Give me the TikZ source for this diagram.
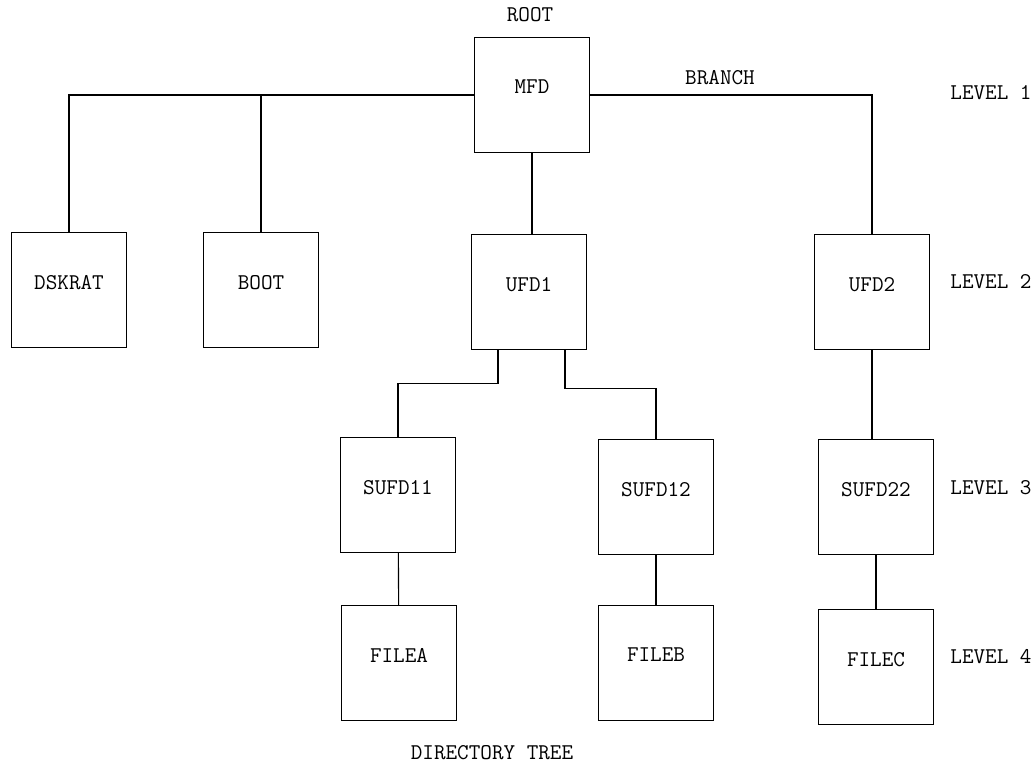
\documentclass[tikz,border=0pt]{standalone}
\usetikzlibrary{calc,positioning}
\tikzset{
  dirbox/.style={draw, line width=1pt, minimum width=2.875cm, minimum height=2.875cm,
    inner sep=0pt, text depth=0.4cm, font=\ttfamily\fontsize{16}{19}\selectfont},
  link/.style={line width=0.8pt},
  tag/.style={font=\ttfamily\fontsize{16}{19}\selectfont},
}

\begin{document}
\begin{tikzpicture}[x=0.025cm, y=-0.025cm]
  \useasboundingbox (0,0) rectangle (1033,765);

  % Root
  \node[dirbox] (mfd) at (532,95) {MFD};
  \node[tag] (root) at (530,15) {ROOT};
  \node[tag] (branch) at (720,78) {BRANCH};

  % Level 2
  \node[dirbox] (dskrat) at (69,290) {DSKRAT};
  \node[dirbox] (boot) at (261,290) {BOOT};
  \node[dirbox] (ufd1) at (529,292) {UFD1};
  \node[dirbox] (ufd2) at (872,292) {UFD2};

  % Level 3
  \node[dirbox] (sufd11) at (398,495) {SUFD11};
  \node[dirbox] (sufd12) at (656,497) {SUFD12};
  \node[dirbox] (sufd22) at (876,497) {SUFD22};

  % Level 4
  \node[dirbox] (filea) at (399,663) {FILEA};
  \node[dirbox] (fileb) at (656,663) {FILEB};
  \node[dirbox] (filec) at (876,667) {FILEC};

  % Level labels
  \node[tag] (lev1) at (991,93) {LEVEL 1};
  \node[tag] (lev2) at (991,282) {LEVEL 2};
  \node[tag] (lev3) at (991,488) {LEVEL 3};
  \node[tag] (lev4) at (991,657) {LEVEL 4};
  \node[tag] (title) at (492,753) {DIRECTORY TREE};

  % Branches
  \draw[link] (mfd.west) -| (dskrat.north);
  \draw[link] (boot.north) -- (boot.north |- mfd.west);
  \draw[link] (mfd.east) -| (ufd2.north);
  \draw[link] (mfd.south) -- (mfd.south |- ufd1.north);
  \coordinate (ufd1l) at ($(ufd1.south)+(-31,0)$);
  \coordinate (ufd1r) at ($(ufd1.south)+(36,0)$);
  \draw[link] (ufd1l) -- ++(0,33) -| (sufd11.north);
  \draw[link] (ufd1r) -- ++(0,38) -| (sufd12.north);
  \draw[link] (ufd2.south) -- (ufd2.south |- sufd22.north);
  \draw[link] (sufd11) -- (filea);
  \draw[link] (sufd12) -- (fileb);
  \draw[link] (sufd22) -- (filec);
\end{tikzpicture}
\end{document}
